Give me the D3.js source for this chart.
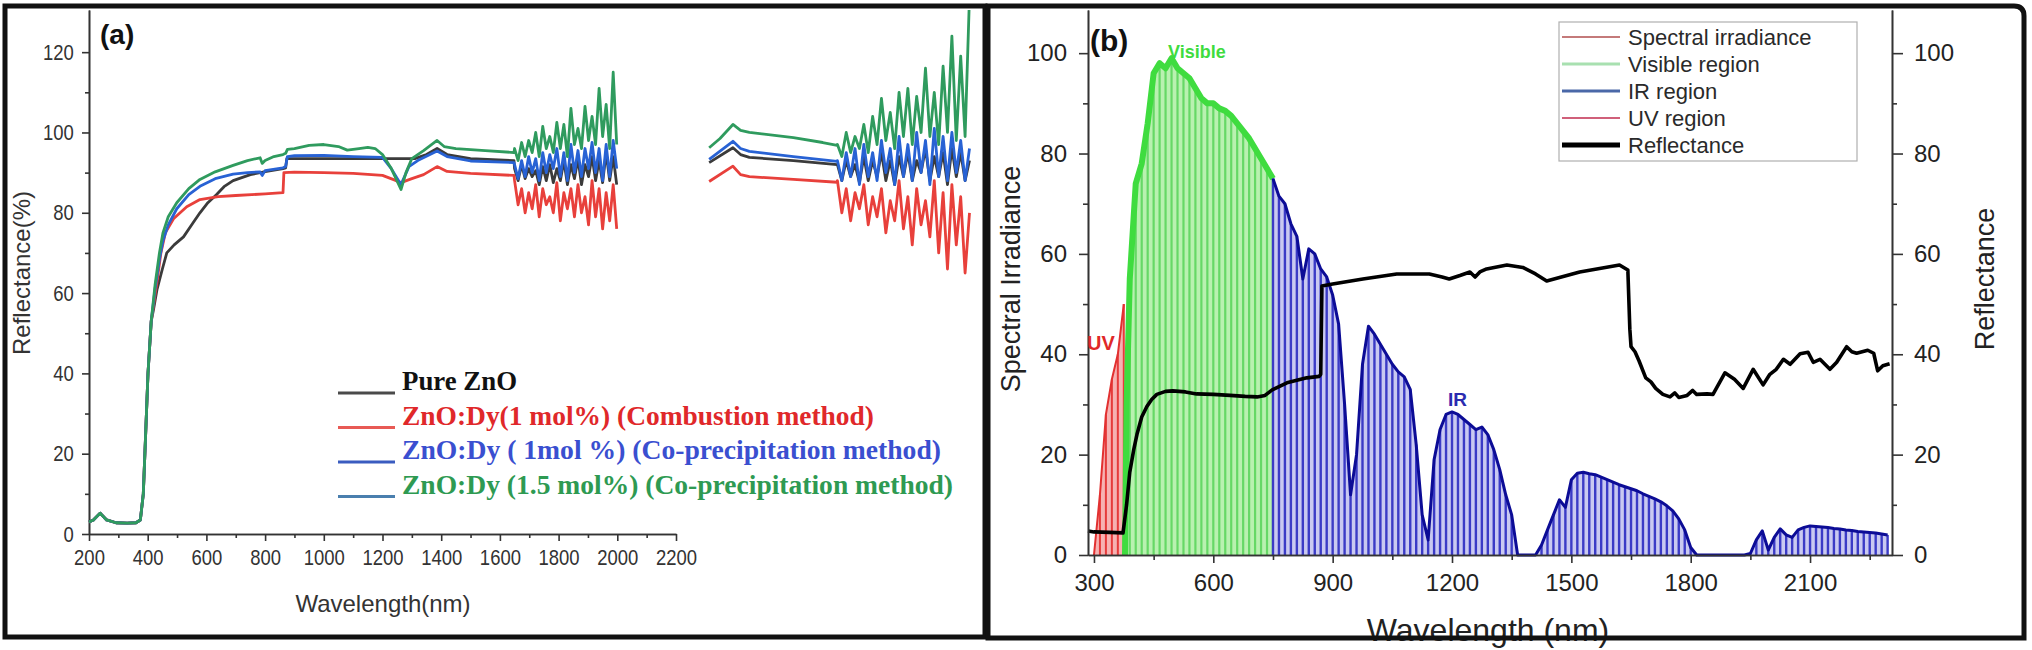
<!DOCTYPE html>
<html>
<head>
<meta charset="utf-8">
<title>ZnO reflectance and solar spectral irradiance</title>
<script src="https://cdn.jsdelivr.net/npm/d3@7"></script>
<style>
    html, body { margin: 0; padding: 0; background: #fff; }
    svg { display: block; }
    text { font-family: "Liberation Sans", Arial, sans-serif; fill: #222; }
</style>
</head>
<body>
<svg id="chart" width="2032" height="650"></svg>
<script>
"use strict";

/* -------------------- panel (a) data -------------------- */
// shared absorption edge, all four samples overlap here
var lowEdge = [[200, 3], [215, 3.5], [238, 5.2], [260, 3.5], [292, 2.8], [330, 2.7], [360, 2.8],
    [375, 3.5], [385, 10], [392, 23], [401, 40], [412, 53]];

var pureSmooth1 = [[420, 56], [432, 61], [450, 66], [465, 70], [490, 72], [522, 74], [550, 77], [578, 80],
    [605, 82.5], [634, 84.5], [660, 86.5], [691, 88], [750, 89.5], [805, 90.3], [861, 91], [870, 91.2],
    [874, 93.5], [1000, 93.5], [1310, 93.5], [1350, 94.5], [1386, 96], [1420, 94.5], [1500, 93.5], [1648, 93]];
var redSmooth1 = [[420, 57], [432, 63], [445, 70], [460, 75], [488, 78.5], [533, 81.5], [578, 83.3], [640, 84],
    [700, 84.3], [800, 84.7], [861, 85], [864, 90], [900, 90.1], [1000, 90], [1100, 89.8], [1200, 89.3],
    [1240, 88.2], [1263, 87.5], [1300, 88.5], [1340, 89.5], [1386, 91.5], [1420, 90.3], [1500, 89.8], [1648, 89.3]];
var blueSmooth1 = [[425, 61], [440, 68.5], [452, 73], [470, 77], [499, 81], [540, 84.5], [578, 86.6], [630, 88.5],
    [691, 89.6], [740, 90], [783, 90.2], [790, 89.3], [800, 90.5], [861, 91.2], [870, 91.5], [876, 94], [900, 94.2],
    [1000, 94.3], [1100, 94], [1200, 93.8], [1230, 91], [1263, 87], [1290, 91.5], [1320, 93], [1386, 95.4],
    [1420, 94], [1500, 92.9], [1648, 92.5]];
var greenSmooth1 = [[425, 62], [440, 70], [452, 75], [470, 79], [499, 82.5], [540, 86], [578, 88.3], [630, 90.2],
    [691, 91.8], [740, 93], [783, 93.7], [790, 92.3], [800, 93], [830, 94], [861, 94.5], [870, 94.8], [876, 95.8],
    [900, 96], [950, 96.8], [1000, 97], [1050, 96.5], [1080, 95.6], [1120, 96], [1150, 96.3], [1175, 96],
    [1200, 94.5], [1230, 91], [1263, 85.8], [1280, 90], [1300, 93.5], [1340, 95.5], [1386, 98], [1410, 96.5],
    [1450, 96], [1550, 95.5], [1648, 95]];

// noisy detector region, 1650 - 2000 nm
var noiseNm1 = d3.range(1650, 2000, 12);
var pureNoise1 = [91, 88, 92, 88.5, 91, 89, 90.5, 87, 91.5, 88, 92, 87.5, 91, 88, 93, 87, 92, 88.5, 93.5, 87,
    92, 89, 94, 88, 93, 87.5, 95, 88, 94, 87];
var redNoise1 = [88, 82, 86, 80, 85, 81, 87, 79, 86, 82, 84, 80, 87.5, 78, 85, 81, 86, 79, 87, 80,
    84, 77, 88, 79, 86, 76, 85, 78, 87, 76];
var blueNoise1 = [92, 88.5, 93, 89, 94, 90, 93.5, 88, 95, 90, 94.5, 91, 96, 89, 95, 88, 97, 90, 95.5, 89,
    96, 91, 97.5, 90, 96, 88, 97, 89, 98, 91];
var greenNoise1 = [96, 93, 97.5, 94, 98, 95, 100, 94, 101.5, 96, 99, 95, 102.5, 96, 102, 94, 106, 97, 101, 96,
    106.5, 98, 104, 97, 111, 99, 107, 96, 115, 97];

// second block, drawn past the end of the axis
var pureSmooth2 = [[2313, 92.5], [2394, 96.2], [2420, 94.5], [2450, 93.8], [2600, 93], [2749, 92]];
var redSmooth2 = [[2313, 87.8], [2394, 91.6], [2420, 89.5], [2450, 89], [2600, 88.3], [2749, 87.6]];
var blueSmooth2 = [[2313, 93.3], [2394, 97.8], [2420, 96], [2450, 95.3], [2600, 94], [2749, 92.8]];
var greenSmooth2 = [[2313, 96.2], [2350, 98.5], [2394, 102], [2420, 100.5], [2450, 100], [2600, 98.7],
    [2700, 97.5], [2749, 96.8]];

var noiseNm2 = d3.range(2750, 3201, 15);
var pureNoise2 = [92, 88, 93, 89, 92, 87.5, 94, 88, 93, 89, 95, 88, 93, 87, 94, 89, 95, 88, 93, 90,
    96, 88, 94, 89, 95, 87, 96, 89, 95, 88, 93];
var redNoise2 = [88, 80, 86, 78, 85, 81, 87, 77, 84, 79, 86, 75, 83, 78, 88, 76, 84, 72, 86, 77,
    83, 74, 88, 70, 85, 66, 87, 72, 84, 65, 80];
var blueNoise2 = [93, 88, 95, 89, 96, 87, 97, 89, 95, 88, 98, 90, 96, 87, 99, 89, 97, 88, 100, 90,
    98, 87, 101, 89, 99, 88, 100, 90, 98, 88, 96];
var greenNoise2 = [97, 94, 100, 95, 99, 96, 102, 95, 104, 97, 108.5, 98, 105, 96, 110, 99, 111, 97, 109, 100,
    116, 99, 110, 97, 116.5, 100, 124, 98, 119, 99, 134];

var samplesA = [
    { name: "Pure ZnO", color: "#3b3b3b", key: "#4a4a4a", text: "#111",
      s1: pureSmooth1, n1: pureNoise1, s2: pureSmooth2, n2: pureNoise2, width: 115 },
    { name: "ZnO:Dy(1 mol%) (Combustion method)", color: "#e8403b", key: "#e85a55", text: "#e0282a",
      s1: redSmooth1, n1: redNoise1, s2: redSmooth2, n2: redNoise2, width: 472 },
    { name: "ZnO:Dy ( 1mol %) (Co-precipitation method)", color: "#2862d4", key: "#3a5cc0", text: "#3a4fd0",
      s1: blueSmooth1, n1: blueNoise1, s2: blueSmooth2, n2: blueNoise2, width: 539 },
    { name: "ZnO:Dy (1.5 mol%) (Co-precipitation method)", color: "#2f9b5e", key: "#4a7fae", text: "#2e9a52",
      s1: greenSmooth1, n1: greenNoise1, s2: greenSmooth2, n2: greenNoise2, width: 551 }
];
var ticksA_x = [200, 400, 600, 800, 1000, 1200, 1400, 1600, 1800, 2000, 2200];
var ticksA_y = [0, 20, 40, 60, 80, 100, 120];

/* -------------------- panel (b) data -------------------- */
var uvNm = [300, 315, 330, 345, 360, 375];
var uvVal = [0, 12, 28, 35, 40, 50];
var visNm = [378, 382, 390, 405, 420, 435, 450, 465, 480, 495, 510, 525, 540, 555, 570, 585, 600, 615,
    630, 645, 660, 675, 690, 705, 720, 735, 750];
var visVal = [0, 30, 55, 74, 78, 86, 96, 98, 97, 99, 97, 96, 95, 93, 91, 90, 90, 89,
    88.5, 87.5, 86, 84.5, 83, 81, 79, 77, 75];
var irNm = d3.range(765, 2296, 15);
var irVal = [71.5, 70, 66, 63.5, 55, 61, 60, 57, 55.4, 51.8,
    46, 30, 12, 20, 38, 45.6, 44, 42, 40, 38,
    36.5, 35.5, 33, 22, 8, 3, 19, 25, 28, 28.5,
    28, 27, 26, 25, 25.5, 24, 21, 17, 12, 8,
    0, 0, 0, 0, 2, 5, 8, 11, 9.5, 15,
    16.3, 16.5, 16.2, 16, 15.5, 15, 14.5, 14, 13.6, 13.2,
    12.8, 12.2, 11.7, 11.2, 10.6, 9.8, 8.8, 7.2, 5, 1.5,
    0, 0, 0, 0, 0, 0, 0, 0, 0, 0.3,
    3, 4.8, 1, 3.5, 5.2, 4, 3.5, 5, 5.5, 5.8,
    5.7, 5.6, 5.5, 5.3, 5.2, 5, 4.9, 4.7, 4.6, 4.5,
    4.4, 4.2, 4];

var reflNm = [285, 300, 340, 373, 382, 390, 400, 408, 420, 433, 445, 458, 480, 498, 530, 558, 600, 642, 680,
    710, 730, 748, 785, 835, 866, 870, 873, 900, 976, 1061, 1143, 1175, 1193, 1220, 1245, 1258, 1270, 1287,
    1338, 1378, 1410, 1438, 1521, 1621, 1642, 1647, 1650, 1660, 1670, 1687, 1700, 1712, 1730, 1748, 1760,
    1770, 1791, 1805, 1815, 1841, 1856, 1886, 1910, 1932, 1957, 1982, 1999, 2015, 2033, 2050, 2075, 2095,
    2108, 2125, 2150, 2167, 2192, 2205, 2217, 2245, 2260, 2270, 2283, 2300];
var reflVal = [4.8, 4.6, 4.5, 4.4, 10, 16.5, 21, 24, 27.5, 29.6, 31, 32, 32.6, 32.7, 32.5, 32.1, 32, 31.8, 31.6,
    31.5, 31.8, 32.9, 34.3, 35.3, 35.6, 36, 53.6, 54, 55, 56, 56, 55.4, 55, 55.7, 56.4, 55.4, 56.4, 57,
    57.8, 57.3, 56, 54.6, 56.4, 57.8, 56.8, 45, 41.5, 40.5, 38.7, 35.3, 34.5, 33.2, 32, 31.5, 32.3,
    31.4, 31.8, 32.8, 32, 32.1, 32, 36.3, 35, 33.2, 37, 33.9, 36, 37, 39, 38, 40.1, 40.4,
    38.4, 39, 37, 38.4, 41.5, 40.5, 40.2, 40.8, 40.2, 36.7, 37.7, 38.1];

var ticksB_x = [300, 600, 900, 1200, 1500, 1800, 2100];
var ticksB_y = [0, 20, 40, 60, 80, 100];
var legendB = [
    { label: "Spectral irradiance", color: "#c47a7a", width: 2 },
    { label: "Visible region", color: "#a8e0b0", width: 3 },
    { label: "IR region", color: "#4a68a8", width: 3 },
    { label: "UV region", color: "#d0607a", width: 2 },
    { label: "Reflectance", color: "#000", width: 5 }
];

function zip(nm, val) {
    return nm.map(function (n, i) { return [n, val[i]]; });
}

function style_axis(g, size) {
    g.select(".domain").attr("stroke", "#333").attr("stroke-width", 1.6);
    g.selectAll(".tick line").attr("stroke", "#333").attr("stroke-width", 1.6);
    g.selectAll(".tick text").attr("fill", "#222").style("font-size", size + "px");
    g.attr("font-family", null).attr("font-size", null);
}

/* ------------------- panel (a) ------------------- */
function draw_panel_a(svg) {
    var x = d3.scaleLinear().domain([200, 2200]).range([89, 676]);
    var y = d3.scaleLinear().domain([0, 130.5]).range([534, 10]);
    var fmt = d3.format("d");

    svg.append("clipPath").attr("id", "clipA")
        .append("rect").attr("x", 0).attr("y", 10).attr("width", 984).attr("height", 600);

    // Minor ticks first, major ticks with labels on top
    var gx = svg.append("g").attr("transform", "translate(0," + y(0) + ")");
    gx.append("g").call(d3.axisBottom(x).tickValues(d3.range(300, 2200, 200)).tickSize(4).tickFormat("").tickSizeOuter(0))
        .call(style_axis, 20);
    gx.append("g").call(d3.axisBottom(x).tickValues(ticksA_x).tickSize(7).tickPadding(8).tickFormat(fmt).tickSizeOuter(0))
        .call(style_axis, 22);

    var gy = svg.append("g").attr("transform", "translate(" + x(200) + ",0)");
    gy.append("g").call(d3.axisLeft(y).tickValues([10, 30, 50, 70, 90, 110]).tickSize(4).tickFormat("").tickSizeOuter(0))
        .call(style_axis, 20);
    gy.append("g").call(d3.axisLeft(y).tickValues(ticksA_y).tickSize(7).tickPadding(11).tickFormat(fmt).tickSizeOuter(0))
        .call(style_axis, 22);

    // the figure uses a narrow sans for these labels
    gx.selectAll(".tick text").attr("transform", "scale(0.84,1)").style("fill", "#333");
    gy.selectAll(".tick text").attr("transform", "scale(0.84,1)").style("fill", "#333");

    var line = d3.line().x(function (d) { return x(d[0]); }).y(function (d) { return y(d[1]); });
    var plot = svg.append("g").attr("clip-path", "url(#clipA)");

    samplesA.forEach(function (s) {
        var seg1 = lowEdge.concat(s.s1, zip(noiseNm1, s.n1));
        var seg2 = s.s2.concat(zip(noiseNm2, s.n2));
        [seg1, seg2].forEach(function (seg) {
            plot.append("path")
                .datum(seg)
                .attr("fill", "none")
                .attr("stroke", s.color)
                .attr("stroke-width", 2.8)
                .attr("stroke-linejoin", "round")
                .attr("d", line);
        });
    });

    // Legend in serif bold, as in the paper figure
    var leg = svg.append("g");
    samplesA.forEach(function (s, i) {
        var yy = 390 + i * 34.5;
        leg.append("line")
            .attr("x1", 338).attr("x2", 395)
            .attr("y1", yy + 3).attr("y2", yy + 3)
            .attr("stroke", s.key).attr("stroke-width", 3);
        leg.append("text")
            .attr("x", 402).attr("y", yy)
            .attr("textLength", s.width)
            .attr("lengthAdjust", "spacingAndGlyphs")
            .style("font-family", '"Liberation Serif", "Times New Roman", serif')
            .style("font-weight", "bold")
            .style("font-size", "27px")
            .style("fill", s.text)
            .text(s.name);
    });

    svg.append("text")
        .attr("x", 100).attr("y", 44)
        .style("font-size", "28px").style("font-weight", "bold").style("fill", "#111")
        .text("(a)");

    svg.append("text")
        .attr("transform", "translate(30,273) rotate(-90)")
        .attr("text-anchor", "middle")
        .style("font-size", "24px").style("fill", "#333")
        .text("Reflectance(%)");

    svg.append("text")
        .attr("x", 383).attr("y", 612)
        .attr("text-anchor", "middle")
        .style("font-size", "24px").style("fill", "#333")
        .text("Wavelength(nm)");
}

/* ------------------- panel (b) ------------------- */
function draw_panel_b(svg) {
    var x = d3.scaleLinear().domain([285, 2306]).range([1088, 1892]);
    var y = d3.scaleLinear().domain([0, 108.6]).range([555, 10]);
    var yRight = d3.scaleLinear().domain([0, 108.6]).range([555, 10]);
    var fmt = d3.format("d");

    var area = d3.area()
        .x(function (d) { return x(d[0]); })
        .y0(y(0))
        .y1(function (d) { return y(d[1]); });
    var line = d3.line().x(function (d) { return x(d[0]); }).y(function (d) { return y(d[1]); });

    var regions = [
        { data: zip(uvNm, uvVal), fill: "#f6b2b2", stem: "#e63b3b", stemW: 2, edge: "#e23030", edgeW: 2 },
        { data: zip(visNm, visVal), fill: "#b9f1b0", stem: "#66d866", stemW: 2.2, edge: "#3fdc3f", edgeW: 6 },
        { data: [[750, 75]].concat(zip(irNm, irVal)), fill: "#c9c9f1", stem: "#3b3bc6", stemW: 2.4, edge: "#0c0c96", edgeW: 3 }
    ];

    var plot = svg.append("g");
    regions.forEach(function (r) {
        plot.append("path").datum(r.data).attr("fill", r.fill).attr("d", area);
        plot.selectAll(null)
            .data(r.data)
            .join("line")
            .attr("x1", function (d) { return x(d[0]); })
            .attr("x2", function (d) { return x(d[0]); })
            .attr("y1", y(0))
            .attr("y2", function (d) { return y(d[1]); })
            .attr("stroke", r.stem)
            .attr("stroke-width", r.stemW);
        plot.append("path").datum(r.data)
            .attr("fill", "none")
            .attr("stroke", r.edge)
            .attr("stroke-width", r.edgeW)
            .attr("stroke-linejoin", "round")
            .attr("d", line);
    });

    // Reflectance on the right axis
    plot.append("path")
        .datum(zip(reflNm, reflVal))
        .attr("fill", "none")
        .attr("stroke", "#000")
        .attr("stroke-width", 3.6)
        .attr("stroke-linejoin", "round")
        .attr("d", d3.line().x(function (d) { return x(d[0]); }).y(function (d) { return yRight(d[1]); }));

    // Axes
    var gx = svg.append("g").attr("transform", "translate(0," + y(0) + ")");
    gx.append("g").call(d3.axisBottom(x).tickValues(d3.range(450, 2300, 300)).tickSize(5).tickFormat("").tickSizeOuter(0))
        .call(style_axis, 20);
    gx.append("g").call(d3.axisBottom(x).tickValues(ticksB_x).tickSize(8).tickPadding(11).tickFormat(fmt).tickSizeOuter(0))
        .call(style_axis, 24);

    var gy = svg.append("g").attr("transform", "translate(" + x.range()[0] + ",0)");
    gy.append("g").call(d3.axisLeft(y).tickValues(d3.range(10, 108, 20)).tickSize(5).tickFormat("").tickSizeOuter(0))
        .call(style_axis, 20);
    gy.append("g").call(d3.axisLeft(y).tickValues(ticksB_y).tickSize(9).tickPadding(12).tickFormat(fmt).tickSizeOuter(0))
        .call(style_axis, 24);

    var gr = svg.append("g").attr("transform", "translate(" + x.range()[1] + ",0)");
    gr.append("g").call(d3.axisRight(yRight).tickValues(d3.range(10, 108, 20)).tickSize(5).tickFormat("").tickSizeOuter(0))
        .call(style_axis, 20);
    gr.append("g").call(d3.axisRight(yRight).tickValues(ticksB_y).tickSize(11).tickPadding(11).tickFormat(fmt).tickSizeOuter(0))
        .call(style_axis, 24);

    // Legend box
    var leg = svg.append("g");
    leg.append("rect")
        .attr("x", 1559).attr("y", 22).attr("width", 298).attr("height", 139)
        .attr("fill", "#fff").attr("stroke", "#b0b0b0").attr("stroke-width", 1.2);
    legendB.forEach(function (d, i) {
        var yy = 37 + i * 27;
        leg.append("line")
            .attr("x1", 1562).attr("x2", 1620).attr("y1", yy).attr("y2", yy)
            .attr("stroke", d.color).attr("stroke-width", d.width);
        leg.append("text")
            .attr("x", 1628).attr("y", yy + 8)
            .style("font-size", "22px").style("fill", "#2a2a2a")
            .text(d.label);
    });

    // Region labels
    svg.append("text").attr("x", 1168).attr("y", 58)
        .style("font-size", "18px").style("font-weight", "bold").style("fill", "#3fdc3f").text("Visible");
    svg.append("text").attr("x", 1087).attr("y", 350)
        .style("font-size", "20px").style("font-weight", "bold").style("fill", "#e02828").text("UV");
    svg.append("text").attr("x", 1448).attr("y", 406)
        .style("font-size", "19px").style("font-weight", "bold").style("fill", "#2b2bb0").text("IR");

    svg.append("text")
        .attr("x", 1090).attr("y", 51)
        .style("font-size", "30px").style("font-weight", "bold").style("fill", "#111")
        .text("(b)");

    svg.append("text")
        .attr("transform", "translate(1020,279) rotate(-90)")
        .attr("text-anchor", "middle")
        .style("font-size", "27px").style("fill", "#222")
        .text("Spectral Irradiance");

    svg.append("text")
        .attr("transform", "translate(1994,279) rotate(-90)")
        .attr("text-anchor", "middle")
        .style("font-size", "27px").style("fill", "#222")
        .text("Reflectance");

    svg.append("text")
        .attr("x", 1488).attr("y", 641)
        .attr("text-anchor", "middle")
        .style("font-size", "32px").style("fill", "#222")
        .text("Wavelength (nm)");
}

function draw_frames(svg) {
    // Two black boxes, the right one with a rounded top right corner
    svg.append("rect")
        .attr("x", 5).attr("y", 6).attr("width", 980).attr("height", 631)
        .attr("fill", "none").attr("stroke", "#111").attr("stroke-width", 5);
    svg.append("path")
        .attr("d", "M988,6 H2014 Q2024,6 2024,16 V638 H988 Z")
        .attr("fill", "none").attr("stroke", "#111").attr("stroke-width", 5);
}

function startup() {
    var svg = d3.select("#chart");
    svg.append("rect").attr("width", 2032).attr("height", 650).attr("fill", "#fff");
    draw_panel_a(svg);
    draw_panel_b(svg);
    draw_frames(svg);
}

startup();
</script>
</body>
</html>
